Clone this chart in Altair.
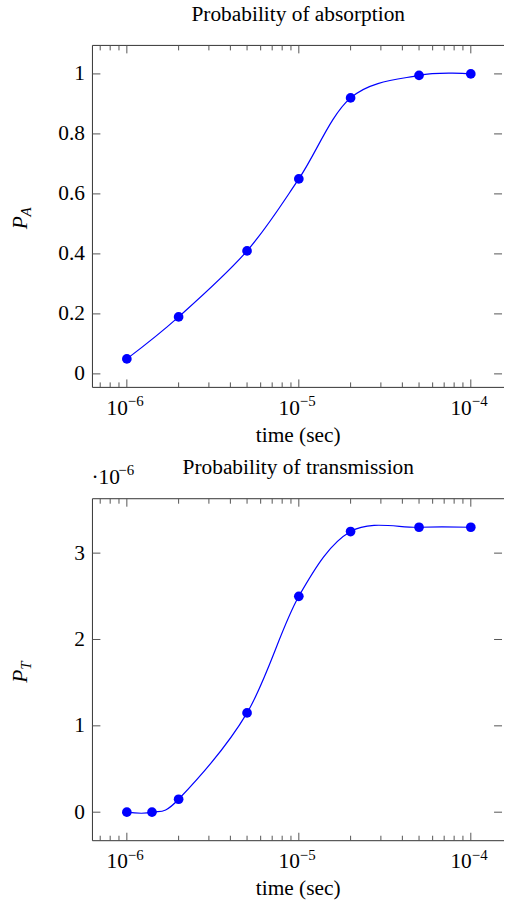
import altair as alt
import pandas as pd
import numpy as np

FONT = "Liberation Serif, Times New Roman, Times, serif"
BLUE = "#0000ff"
FS = 21.5
FS_SUP = 15

# ---- data ----
time_abs = [1e-6, 2e-6, 5e-6, 1e-5, 2e-5, 5e-5, 1e-4]
p_abs = [0.05, 0.19, 0.41, 0.65, 0.92, 0.995, 1.0]

time_trans = [1e-6, 1.4e-6, 2e-6, 5e-6, 1e-5, 2e-5, 5e-5, 1e-4]
p_trans = [0.0, 0.0, 0.15, 1.15, 2.5, 3.25, 3.3, 3.3]  # in units of 1e-6

x_major = [1e-6, 1e-5, 1e-4]
x_base = ["10", "10", "10"]
x_exp = ["\u22126", "\u22125", "\u22124"]
x_minor = [7e-7, 8e-7, 9e-7,
           2e-6, 3e-6, 4e-6, 5e-6, 6e-6, 7e-6, 8e-6, 9e-6,
           2e-5, 3e-5, 4e-5, 5e-5, 6e-5, 7e-5, 8e-5, 9e-5]

yticks_abs = [0, 0.2, 0.4, 0.6, 0.8, 1.0]
yticks_trans = [0, 1, 2, 3]

titles = ["Probability of absorption", "Probability of transmission"]
xlabel = "time (sec)"

# ---- geometry ----
W, H = 412, 344
DECADE = 173.0
xmin_exp = -6.2
xdomain = [10 ** xmin_exp, 10 ** (xmin_exp + W / DECADE)]

one = pd.DataFrame({"a": [0]})


def panel(t, p, yticks, ydomain, title, sub, top_anchor, bottom_anchor, mult=False):
    xs = alt.Scale(type="log", domain=xdomain, nice=False)
    ys = alt.Scale(domain=ydomain, nice=False, zero=False)
    yaxis = alt.Axis(values=yticks, domain=False, ticks=False, tickSize=0, grid=False,
                     labelPadding=8, labelFont=FONT, labelFontSize=FS, labelColor="black",
                     title=None, format="~g")
    X = lambda: alt.X("t:Q", scale=xs, axis=None)
    Y = lambda: alt.Y("p:Q", scale=ys, axis=yaxis)

    df = pd.DataFrame({"t": t, "p": p})
    ydf = pd.DataFrame({"p": yticks})
    majdf = pd.DataFrame({"t": x_major, "b": x_base, "e": x_exp})
    mindf = pd.DataFrame({"t": x_minor})

    layers = []
    tick_col = "#555555"
    # frame (left, top, bottom)
    layers.append(alt.Chart(one).mark_rule(color="#333333", strokeWidth=1).encode(
        x=alt.value(0), y=alt.value(0), y2=alt.value(H)))
    layers.append(alt.Chart(one).mark_rule(color="#333333", strokeWidth=1).encode(
        x=alt.value(0), x2=alt.value(W + 2), y=alt.value(0)))
    layers.append(alt.Chart(one).mark_rule(color="#333333", strokeWidth=1).encode(
        x=alt.value(0), x2=alt.value(W + 2), y=alt.value(H)))
    # y ticks inward (left & right)
    layers.append(alt.Chart(ydf).mark_rule(color=tick_col, strokeWidth=1).encode(
        y=Y(), x=alt.value(0), x2=alt.value(8)))
    layers.append(alt.Chart(ydf).mark_rule(color=tick_col, strokeWidth=1).encode(
        y=Y(), x=alt.value(W - 8), x2=alt.value(W)))
    # x ticks inward (bottom & top)
    for y0, y1 in [(H - 8, H), (0, 8)]:
        layers.append(alt.Chart(majdf).mark_rule(color=tick_col, strokeWidth=1).encode(
            x=X(), y=alt.value(y0), y2=alt.value(y1)))
    for y0, y1 in [(H - 5, H), (0, 5)]:
        layers.append(alt.Chart(mindf).mark_rule(color=tick_col, strokeWidth=1).encode(
            x=X(), y=alt.value(y0), y2=alt.value(y1)))
    # x tick labels 10^k
    layers.append(alt.Chart(majdf).mark_text(font=FONT, fontSize=FS, align="right",
                                             baseline="alphabetic", dx=1, color="black").encode(
        x=X(), y=alt.value(H + 27.5), text="b:N"))
    layers.append(alt.Chart(majdf).mark_text(font=FONT, fontSize=FS_SUP, align="left",
                                             baseline="alphabetic", dx=1, color="black").encode(
        x=X(), y=alt.value(H + 19), text="e:N"))
    # x title
    layers.append(alt.Chart(one).mark_text(font=FONT, fontSize=FS, align="center",
                                           baseline="alphabetic", color="black", text=xlabel).encode(
        x=alt.value(207), y=alt.value(H + 55)))
    # title
    layers.append(alt.Chart(one).mark_text(font=FONT, fontSize=FS, align="center",
                                           baseline="alphabetic", color="black", text=title).encode(
        x=alt.value(207), y=alt.value(-25)))
    # y title P_sub
    layers.append(alt.Chart(one).mark_text(font=FONT, fontSize=FS, fontStyle="italic", align="left",
                                           baseline="alphabetic", angle=270, color="black", text="P").encode(
        x=alt.value(-66), y=alt.value(185)))
    layers.append(alt.Chart(one).mark_text(font=FONT, fontSize=FS_SUP, fontStyle="italic", align="left",
                                           baseline="alphabetic", angle=270, color="black", text=sub).encode(
        x=alt.value(-62), y=alt.value(172)))
    if mult:
        layers.append(alt.Chart(one).mark_text(font=FONT, fontSize=FS, align="left",
                                               baseline="alphabetic", color="black", text="\u00b710").encode(
            x=alt.value(-1), y=alt.value(-15)))
        layers.append(alt.Chart(one).mark_text(font=FONT, fontSize=FS_SUP, align="left",
                                               baseline="alphabetic", color="black", text="\u22126").encode(
            x=alt.value(26), y=alt.value(-23.5)))
    # layout anchors (invisible)
    layers.append(alt.Chart(one).mark_rule(opacity=0, strokeWidth=0).encode(
        x=alt.value(-93), x2=alt.value(-93), y=alt.value(top_anchor), y2=alt.value(bottom_anchor)))
    # data
    layers.append(alt.Chart(df).mark_line(interpolate="cardinal", color=BLUE, strokeWidth=1.2).encode(
        x=X(), y=Y()))
    layers.append(alt.Chart(df).mark_circle(size=95, color=BLUE, opacity=1).encode(
        x=X(), y=Y()))

    return alt.layer(*layers).properties(width=W, height=H)


top = panel(time_abs, p_abs, yticks_abs, [-0.045, 1.095], titles[0], "A", -43, H + 63)
bottom = panel(time_trans, p_trans, yticks_trans, [-0.33, 3.63], titles[1], "T", -49, H + 62,
               mult=True)

chart = alt.vconcat(top, bottom, spacing=0).resolve_scale(x="independent", y="independent").properties(
    padding={"left": 0, "top": 0, "right": 0, "bottom": 0}
).configure_view(stroke=None)

chart.save("out.html", embed_options={"renderer": "svg", "actions": False})
